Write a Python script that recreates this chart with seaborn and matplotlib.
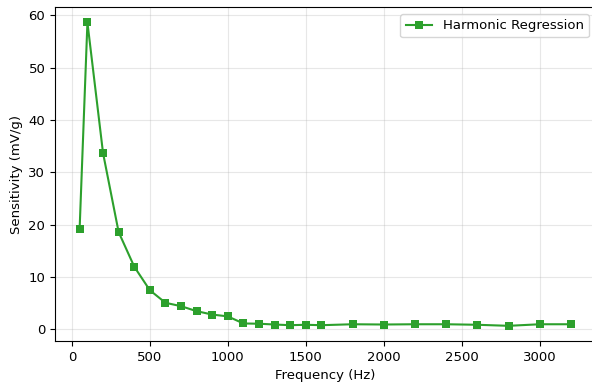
import matplotlib
matplotlib.use("Agg")
import matplotlib.pyplot as plt
import seaborn as sns
import pandas as pd

freq = [50, 100, 200, 300, 400, 500, 600, 700, 800, 900, 1000, 1100, 1200, 1300,
        1400, 1500, 1600, 1800, 2000, 2200, 2400, 2600, 2800, 3000, 3200]
sens = [19.2, 58.6, 33.7, 18.6, 12.0, 7.5, 5.1, 4.45, 3.5, 2.85, 2.5, 1.15, 1.1, 0.95,
        0.82, 0.9, 0.82, 1.0, 0.95, 1.0, 1.0, 0.9, 0.7, 1.0, 1.0]
series = "Harmonic Regression"

df = pd.DataFrame({"Frequency (Hz)": freq, "Sensitivity (mV/g)": sens, "Method": series})

plt.rcParams['font.family'] = ['DejaVu Sans']
plt.rcParams['font.size'] = 9.5
fig, ax = plt.subplots(figsize=(5.92, 3.84), dpi=100)
sns.lineplot(data=df, x="Frequency (Hz)", y="Sensitivity (mV/g)", hue="Method",
             palette=["#2ca02c"], marker="s", markersize=5.5, markeredgewidth=0,
             linewidth=1.5, ax=ax)
ax.grid(True, alpha=0.3)
ax.set_xticks([0, 500, 1000, 1500, 2000, 2500, 3000])
ax.set_yticks([0, 10, 20, 30, 40, 50, 60])
ax.legend(loc="upper right", title=None)
fig.subplots_adjust(left=0.093, right=1.006, top=0.981, bottom=0.112)
fig.savefig("out.png", dpi=100)
